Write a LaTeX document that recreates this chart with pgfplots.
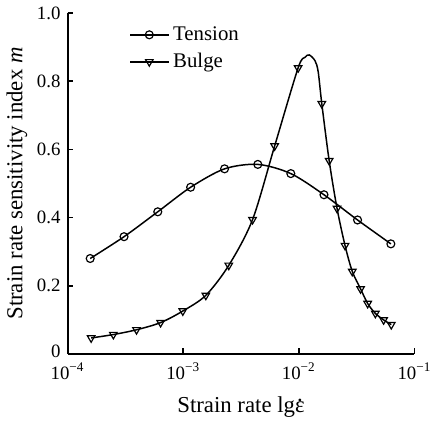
\documentclass[border=0pt]{standalone}
\usepackage{pgfplots}
\pgfplotsset{compat=1.18}
\usepackage{fontspec}
\setmainfont{Liberation Serif}
\newcommand{\edot}{\ooalign{ε\cr\hfil\raisebox{0.5em}{.}\hfil\cr}}
\begin{document}
\begin{tikzpicture}
\begin{axis}[
  scale only axis,
  width=175pt, height=172pt,
  xmode=log, log basis x=10,
  xmin=1e-4, xmax=1e-1,
  ymin=0, ymax=1.0,
  axis lines=left,
  axis line style={line width=1pt, -},
  tick style={line width=0.8pt, black},
  major tick length=3pt,
  tick align=inside,
  xtick={1e-4,1e-3,1e-2,1e-1},
  xticklabels={10\textsuperscript{−4},10\textsuperscript{−3},10\textsuperscript{−2},10\textsuperscript{−1}},
  minor xtick={},
  ytick={0,0.2,0.4,0.6,0.8,1.0},
  yticklabels={\raisebox{2.5pt}{0},0.2,0.4,0.6,0.8,1.0},
  tick label style={font=\fontsize{9.5}{10}\selectfont},
  xticklabel style={yshift=-1pt},
  label style={font=\fontsize{11.5}{13}\selectfont},
  xlabel={Strain rate lg\edot},
  ylabel={Strain rate sensitivity index \textit{m}},
  xlabel style={yshift=-2pt},
  ylabel style={yshift=-2pt},
  legend style={draw=none, fill=none, at={(0.16,0.985)}, anchor=north west,
    font=\fontsize{10.5}{12}\selectfont, row sep=1pt},
  legend cell align=left,
]
\addplot[black, line width=0.75pt, smooth, mark=o, mark size=2pt, mark options={solid, line width=0.6pt},
  legend image code/.code={\draw[mark repeat=2,mark phase=2] plot coordinates {(0cm,0cm)(0.34cm,0cm)(0.68cm,0cm)};}]
coordinates {
(1.57e-4,0.280) (3.08e-4,0.344) (6.03e-4,0.417) (1.16e-3,0.489) (2.28e-3,0.543)
(4.42e-3,0.556) (8.53e-3,0.529) (1.65e-2,0.467) (3.22e-2,0.393) (6.25e-2,0.323)
};
\addlegendentry{Tension}
\addplot[black, line width=0.75pt, smooth, mark=triangle, mark size=2.2pt,
  mark options={solid, line width=0.6pt, rotate=180},
  mark indices={1,2,3,4,5,6,7,8,9,10,15,16,17,18,19,20,21,22,23,24},
  legend image code/.code={\draw[mark indices={2}] plot coordinates {(0cm,0cm)(0.34cm,0cm)(0.68cm,0cm)};}]
coordinates {
(1.60e-4,0.047) (2.49e-4,0.057) (3.95e-4,0.071) (6.38e-4,0.092) (9.93e-4,0.126)
(1.57e-3,0.172) (2.48e-3,0.260) (3.98e-3,0.394) (6.18e-3,0.610) (9.86e-3,0.839)
(1.13e-2,0.870) (1.23e-2,0.877) (1.38e-2,0.860) (1.47e-2,0.828)
(1.58e-2,0.734) (1.83e-2,0.567) (2.14e-2,0.427) (2.51e-2,0.318) (2.90e-2,0.242)
(3.42e-2,0.191) (3.94e-2,0.148) (4.59e-2,0.119) (5.41e-2,0.100) (6.30e-2,0.086)
};
\addlegendentry{Bulge}
\end{axis}
\end{tikzpicture}
\end{document}
